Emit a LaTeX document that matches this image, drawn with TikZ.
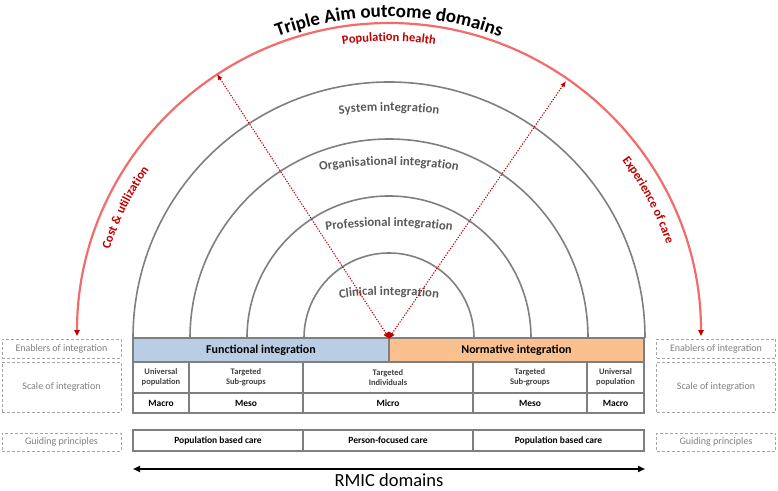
\documentclass[tikz,border=0pt]{standalone}
\usepackage{fontspec}
\setmainfont{Carlito}
\usetikzlibrary{arrows.meta,decorations.text}
\definecolor{arcgray}{HTML}{7F7F7F}
\definecolor{labelgray}{HTML}{595959}
\definecolor{boxgray}{HTML}{A6A6A6}
\definecolor{darkred}{HTML}{C00000}
\definecolor{arcred}{HTML}{F36B6B}
\definecolor{funcblue}{HTML}{B9CDE5}
\definecolor{normorange}{HTML}{FAC090}
\newcommand\titlefont{\bfseries\fontsize{19}{21}\selectfont}
\newcommand\redfont{\bfseries\fontsize{12.5}{14}\selectfont\color{darkred}}
\newcommand\grayfont{\bfseries\fontsize{12.7}{14}\selectfont\color{labelgray}}

\begin{document}
\begin{tikzpicture}[x=1pt,y=1pt,
    ring/.style={draw=arcgray,line width=1.6pt},
    redarc/.style={draw=arcred,line width=2.2pt},
    link/.style={darkred,line width=1.1pt,dash pattern=on 1.2pt off 1.5pt,
        -{Latex[length=6pt,width=5pt]}},
    cell/.style={draw=arcgray,line width=1.1pt,inner sep=0pt,align=center,
        font=\bfseries\fontsize{9.5}{11}\selectfont},
    head/.style={cell,minimum height=24,font=\bfseries\fontsize{12}{14}\selectfont},
    small/.style={cell,minimum height=31,font=\bfseries\fontsize{8.5}{10}\selectfont,text=black!75},
    levelcell/.style={cell,minimum height=20},
    guide/.style={cell,minimum height=21},
    side/.style={draw=boxgray,densely dashed,line width=0.6pt,inner sep=0pt,
        minimum width=119,text=arcgray,font=\fontsize{10}{12}\selectfont}]
    \useasboundingbox (0,0) rectangle (778,490);
    \coordinate (O) at (389,152);

    % integration rings
    \foreach \r in {85,142,199,256}
        \draw[ring] (389-\r,152) arc (180:0:\r);
    \path[decorate,decoration={text along path,text={|\grayfont|System integration},text align=center}]
        ([shift={(105:400)}]389,-21) arc (105:75:400);
    \path[decorate,decoration={text along path,text={|\grayfont|Organisational integration},text align=center}]
        ([shift={(105:400)}]389,-75) arc (105:75:400);
    \path[decorate,decoration={text along path,text={|\grayfont|Professional integration},text align=center}]
        ([shift={(105:400)}]389,-136) arc (105:75:400);
    \path[decorate,decoration={text along path,text={|\grayfont|Clinical integration},text align=center}]
        ([shift={(105:400)}]389,-205) arc (105:75:400);

    % triple aim arc
    \coordinate (costEnd) at (77,154);
    \draw[redarc,{Triangle[length=6pt,width=5.5pt,color=darkred]}-{Triangle[length=6pt,width=5.5pt,color=darkred]}]
        (costEnd) arc[start angle=180,end angle=0,x radius=312,y radius=313];
    \path[decorate,decoration={text along path,text={|\titlefont|Triple Aim outcome domains},text align=center}]
        ([shift={(140:321)}]O) arc (140:40:321);
    \path[decorate,decoration={text along path,text={|\redfont|Population health},text align=center}]
        ([shift={(120:297)}]O) arc (120:60:297);
    \path[decorate,decoration={text along path,text={|\redfont|Cost {\&} utilization},text align=center}]
        ([shift={(178.7:293)}]O) arc (178.7:128.7:293);
    \path[decorate,decoration={text along path,text={|\redfont|Experience of care},text align=center}]
        ([shift={(53:293)}]O) arc (53:3:293);

    % table
    \node[head,fill=funcblue,minimum width=256] (funcInt) at (261,140) {Functional integration};
    \node[head,fill=normorange,minimum width=255] (normInt) at (516.5,140) {Normative integration};
    \node[small,minimum width=56] (uniL) at (161,112.5) {Universal\\population};
    \node[small,minimum width=114] (subL) at (246,112.5) {Targeted\\Sub-groups};
    \node[small,minimum width=170] (indiv) at (388,112.5) {Targeted\\Individuals};
    \node[small,minimum width=114] (subR) at (530,112.5) {Targeted\\Sub-groups};
    \node[small,minimum width=57] (uniR) at (615.5,112.5) {Universal\\population};
    \node[levelcell,minimum width=56] (macroL) at (161,87) {Macro};
    \node[levelcell,minimum width=114] (mesoL) at (246,87) {Meso};
    \node[levelcell,minimum width=170] (micro) at (388,87) {Micro};
    \node[levelcell,minimum width=114] (mesoR) at (530,87) {Meso};
    \node[levelcell,minimum width=57] (macroR) at (615.5,87) {Macro};
    \node[guide,minimum width=170] (popL) at (218,49.5) {Population based care};
    \node[guide,minimum width=170] (person) at (388,49.5) {Person-focused care};
    \node[guide,minimum width=171] (popR) at (558.5,49.5) {Population based care};

    % side boxes
    \node[side,minimum height=19] (enabL) at (61.5,141.5) {Enablers of integration};
    \node[side,minimum height=50] (scaleL) at (61.5,103) {Scale of integration};
    \node[side,minimum height=18] (guideL) at (61.5,48) {Guiding principles};
    \node[side,minimum height=19] (enabR) at (716,141.5) {Enablers of integration};
    \node[side,minimum height=50] (scaleR) at (716,103) {Scale of integration};
    \node[side,minimum height=18] (guideR) at (716,48) {Guiding principles};

    % RMIC axis
    \coordinate (rmicL) at (133,21);
    \coordinate (rmicR) at (645,21);
    \draw[line width=1.8pt,{Triangle[length=7pt,width=6pt]}-{Triangle[length=7pt,width=6pt]}] (rmicL) -- (rmicR);
    \node[anchor=base,inner sep=1pt,font=\fontsize{18.5}{20}\selectfont] (rmic) at (389,4) {RMIC domains};

    % dotted arrows from the person
    \coordinate (leftTip) at (217,416);
    \coordinate (rightTip) at (566,409);
    \draw[link] (O) -- (leftTip);
    \draw[link] (O) -- (rightTip);
    \fill[darkred] (383.5,155) -- (389,158.5) -- (394.5,155) -- (389,151.5) -- cycle;
\end{tikzpicture}
\end{document}
